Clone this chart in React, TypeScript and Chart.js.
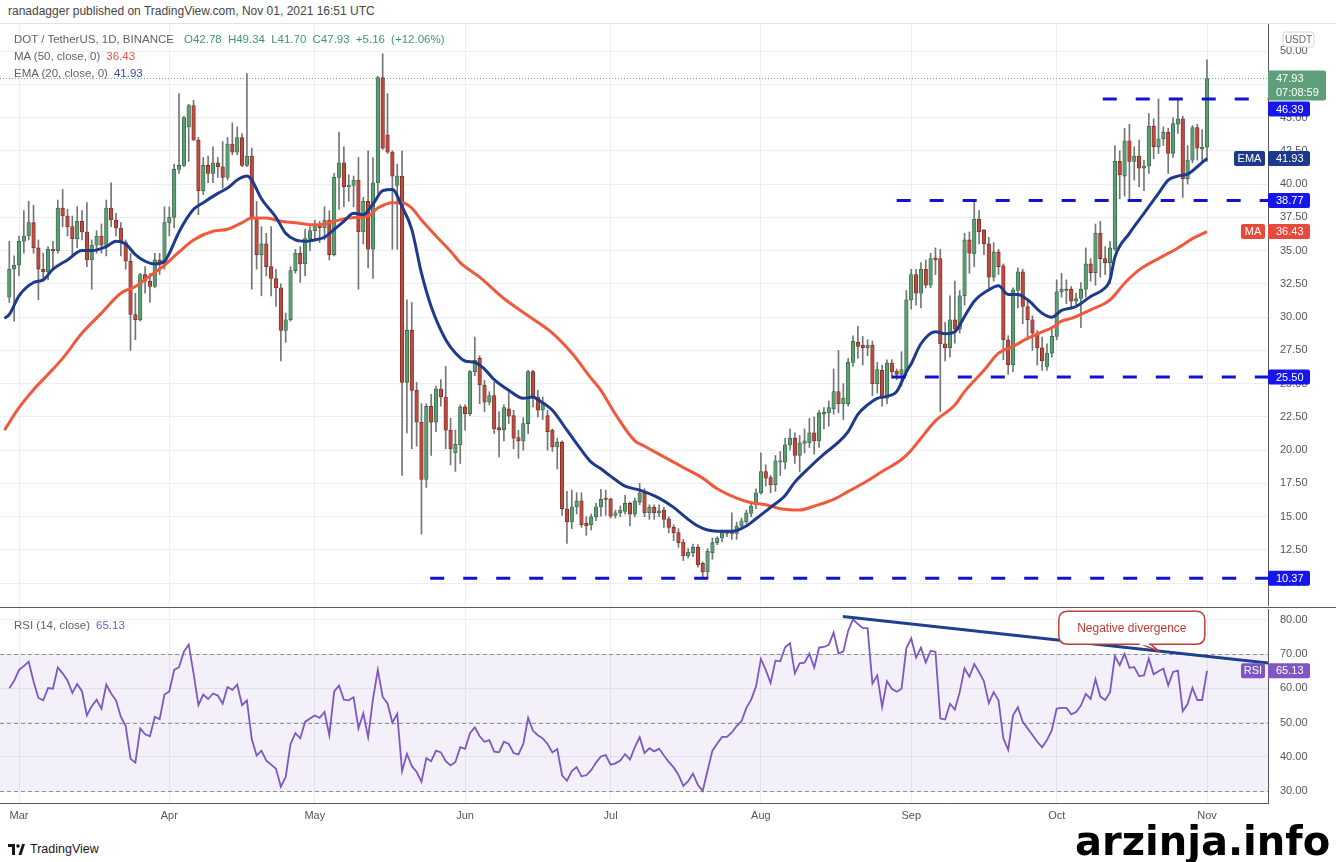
import React, { useEffect, useRef } from 'react';
import { Chart, registerables } from 'chart.js';

Chart.register(...registerables);

// Day index: 0 = 2021-03-01. Candles run from Feb 27 (day -2) to Nov 1 (day 245).
const FIRST_DAY = -2;

const opens: number[] = [
  31.5, 33.6, 33.9, 35.7, 36.1, 37.1, 35.2, 33.6, 33.4, 35.1,
  35.0, 38.2, 37.6, 36.8, 35.9, 37.2, 36.4, 34.3, 35.4, 36.1,
  35.4, 38.2, 37.3, 36.7, 35.6, 34.2, 30.2, 29.8, 33.2, 32.7,
  32.3, 34.3, 34.0, 37.1, 37.5, 41.1, 41.4, 44.3, 45.9, 43.3,
  39.5, 41.4, 40.8, 41.6, 41.3, 40.5, 43.0, 42.4, 43.5, 41.4,
  42.1, 37.5, 34.7, 35.5, 33.8, 32.9, 32.2, 29.0, 29.8, 33.5,
  34.8, 34.0, 35.9, 36.5, 36.9, 36.7, 37.3, 34.7, 40.5, 41.6,
  39.8, 39.9, 40.3, 36.4, 38.7, 35.1, 40.1, 48.0, 43.7, 42.4,
  39.9, 40.6, 25.1, 29.0, 24.5, 22.1, 17.8, 23.3, 22.1, 24.6,
  24.0, 21.5, 19.8, 20.4, 23.25, 22.75, 25.9, 26.9, 24.9, 23.6,
  24.1, 21.7, 21.55, 23.1, 22.6, 20.95, 20.7, 22.0, 25.9, 24.0,
  23.0, 22.6, 21.5, 20.25, 20.6, 15.6, 14.6, 15.75, 16.2, 14.5,
  14.4, 15.0, 15.75, 16.4, 16.35, 15.1, 15.3, 15.4, 16.0, 15.2,
  16.1, 16.8, 15.3, 15.7, 15.3, 15.5, 14.85, 14.2, 13.8, 13.1,
  12.05, 12.3, 12.7, 11.5, 10.85, 12.3, 13.05, 13.4, 13.85, 13.7,
  13.75, 14.3, 14.6, 15.25, 15.9, 16.8, 18.4, 17.95, 17.4, 19.1,
  19.1, 20.4, 20.9, 19.6, 20.5, 20.55, 21.3, 20.7, 22.7, 22.8,
  23.1, 24.4, 23.5, 23.5, 26.6, 28.1, 27.9, 27.7, 27.9, 25.0,
  26.0, 23.9, 26.55, 25.95, 25.7, 25.9, 31.3, 33.2, 31.8, 33.6,
  32.4, 34.45, 34.4, 28.0, 27.7, 29.8, 29.1, 31.6, 35.8, 34.75,
  37.35, 36.55, 35.5, 33.0, 34.9, 33.85, 28.3, 26.4, 32.0, 33.4,
  30.8, 29.8, 28.8, 27.7, 26.3, 27.3, 28.55, 31.9, 32.1, 32.1,
  31.2, 31.4, 32.1, 34.0, 33.35, 36.3, 34.4, 34.1, 35.1, 41.7,
  40.6, 43.25, 41.7, 42.1, 41.2, 41.35, 44.35, 42.8, 43.4, 43.9,
  42.3, 44.5, 44.9, 40.4, 41.8, 44.25, 42.65, 42.78,
];

const highs: number[] = [
  35.7, 34.6, 36.1, 38.0, 38.7, 38.4, 35.8, 34.8, 35.3, 35.7,
  38.8, 39.6, 38.1, 37.6, 38.3, 38.0, 38.6, 35.8, 36.5, 37.0,
  38.8, 40.1, 37.8, 37.1, 35.8, 34.8, 31.8, 33.3, 33.8, 33.3,
  34.8, 34.8, 38.3, 38.3, 41.5, 46.8, 45.1, 46.0, 46.3, 43.5,
  42.0, 42.1, 42.8, 42.0, 43.2, 43.5, 44.6, 44.3, 43.8, 48.3,
  42.7, 38.7, 36.8, 36.3, 36.8, 33.6, 32.5, 30.3, 33.8, 35.1,
  35.3, 36.6, 36.8, 37.3, 37.2, 38.3, 38.0, 40.8, 43.9, 42.8,
  40.7, 40.6, 42.0, 39.0, 42.5, 42.0, 48.1, 49.8, 46.8, 42.5,
  41.5, 42.5, 31.3, 31.1, 25.1, 23.5, 23.5, 24.2, 24.8, 25.3,
  26.3, 22.4, 21.5, 23.4, 23.4, 26.0, 28.5, 27.1, 25.25, 24.4,
  25.1, 22.9, 23.4, 24.5, 23.0, 21.5, 22.45, 26.0, 26.0, 24.5,
  24.0, 23.0, 21.6, 20.9, 20.7, 16.9, 17.0, 16.8, 16.8, 15.0,
  15.2, 16.0, 17.05, 17.0, 16.4, 15.5, 15.8, 16.6, 16.1, 16.4,
  17.5, 17.1, 15.9, 15.9, 15.9, 15.7, 15.0, 14.4, 14.1, 13.3,
  12.6, 12.95, 12.9, 11.6, 12.6, 13.4, 13.5, 14.0, 14.0, 15.3,
  14.6, 14.9, 15.5, 16.0, 17.1, 19.8, 18.9, 18.1, 19.6, 19.9,
  20.9, 21.6, 21.3, 21.1, 21.6, 22.4, 22.5, 23.0, 23.2, 23.7,
  26.1, 27.5, 25.0, 26.9, 28.6, 29.3, 28.55, 28.3, 28.2, 26.6,
  26.4, 26.8, 26.8, 26.1, 27.4, 32.0, 33.6, 33.6, 34.1, 34.3,
  34.8, 35.2, 35.1, 29.6, 31.6, 32.7, 32.0, 36.3, 36.4, 38.8,
  38.0, 36.6, 36.0, 35.6, 35.1, 34.0, 28.6, 32.2, 33.7, 33.6,
  31.3, 30.1, 29.0, 28.5, 28.0, 29.3, 32.8, 33.3, 32.8, 32.3,
  31.8, 32.6, 35.2, 34.4, 37.0, 37.2, 35.3, 35.7, 42.9, 42.5,
  44.2, 44.5, 42.8, 43.3, 41.8, 45.3, 44.9, 46.4, 44.3, 44.2,
  45.0, 46.3, 45.1, 42.9, 44.4, 44.5, 44.1, 49.34,
];

const lows: number[] = [
  31.1, 29.7, 33.1, 34.8, 35.8, 34.8, 31.3, 32.8, 32.8, 33.6,
  34.8, 36.8, 36.1, 34.6, 35.2, 35.8, 33.8, 32.1, 34.8, 34.8,
  34.6, 36.8, 36.1, 34.6, 33.6, 27.5, 28.3, 29.7, 31.8, 31.1,
  32.2, 33.2, 33.6, 36.1, 36.7, 40.8, 41.3, 41.7, 43.3, 37.7,
  39.2, 40.1, 40.1, 40.5, 39.7, 40.3, 42.2, 42.2, 41.3, 41.3,
  32.1, 33.6, 31.6, 33.1, 31.6, 30.8, 26.7, 28.1, 29.7, 33.3,
  32.6, 33.1, 35.0, 35.8, 35.6, 35.8, 34.3, 34.6, 38.1, 38.3,
  38.7, 38.3, 32.1, 35.5, 33.7, 32.9, 39.3, 42.6, 42.3, 35.1,
  35.1, 18.1, 21.3, 20.1, 20.3, 13.7, 17.2, 19.6, 21.4, 23.3,
  20.1, 18.9, 18.4, 19.0, 21.5, 22.6, 25.6, 23.5, 22.9, 23.4,
  21.25, 19.5, 20.7, 22.0, 20.1, 19.4, 20.0, 21.25, 23.25, 22.5,
  22.3, 20.0, 19.9, 18.6, 15.1, 13.0, 14.1, 15.2, 14.2, 13.6,
  14.0, 14.7, 15.05, 15.1, 14.9, 14.9, 15.0, 15.2, 14.3, 15.0,
  15.9, 15.0, 14.8, 14.8, 15.0, 14.2, 13.8, 13.2, 12.7, 11.7,
  11.9, 12.0, 11.2, 10.37, 10.4, 11.8, 12.9, 13.1, 13.5, 13.3,
  13.3, 14.1, 14.5, 15.0, 15.6, 16.7, 17.3, 16.8, 16.9, 18.1,
  18.6, 20.0, 19.0, 18.4, 19.8, 20.2, 19.7, 20.2, 21.6, 21.8,
  22.7, 22.8, 22.3, 23.3, 26.3, 26.9, 26.4, 27.1, 24.1, 24.3,
  23.3, 23.5, 25.4, 25.3, 24.8, 25.6, 30.6, 30.9, 30.7, 32.2,
  32.2, 33.2, 22.9, 26.7, 27.0, 28.05, 28.8, 30.9, 33.3, 33.8,
  35.5, 34.7, 32.2, 32.7, 33.2, 26.8, 25.7, 25.9, 30.7, 29.5,
  28.3, 27.5, 26.4, 26.0, 26.0, 27.0, 28.3, 31.5, 31.0, 30.6,
  30.9, 29.2, 31.5, 32.7, 32.4, 33.0, 33.2, 32.5, 35.0, 38.9,
  39.1, 38.9, 40.3, 39.8, 39.5, 40.8, 41.9, 42.3, 42.9, 40.8,
  42.0, 43.8, 39.0, 40.0, 41.6, 41.8, 41.6, 41.70,
];

const closes: number[] = [
  33.6, 33.9, 35.7, 36.1, 37.1, 35.2, 33.6, 33.4, 35.1, 35.0,
  38.2, 37.6, 36.8, 35.9, 37.2, 36.4, 34.3, 35.4, 36.1, 35.4,
  38.2, 37.3, 36.7, 35.6, 34.2, 30.2, 29.8, 33.2, 32.7, 32.3,
  34.3, 34.0, 37.1, 37.5, 41.1, 41.4, 45.0, 45.9, 43.3, 39.5,
  41.4, 40.8, 41.6, 41.3, 40.5, 43.0, 42.4, 43.5, 41.4, 42.1,
  37.5, 34.7, 35.5, 33.8, 32.9, 32.2, 29.0, 29.8, 33.5, 34.8,
  34.0, 35.9, 36.5, 36.9, 36.7, 37.3, 34.7, 40.5, 41.6, 39.8,
  39.9, 40.3, 36.4, 38.7, 35.1, 40.1, 48.0, 42.7, 42.4, 40.6,
  40.6, 25.1, 29.0, 24.5, 22.1, 17.8, 23.3, 22.1, 24.6, 24.0,
  21.5, 20.1, 20.45, 23.25, 22.75, 25.9, 26.75, 24.9, 23.6, 24.1,
  21.6, 21.55, 23.2, 22.55, 20.9, 20.7, 22.0, 25.9, 24.0, 23.0,
  23.5, 21.4, 20.25, 20.6, 15.6, 14.6, 15.75, 16.2, 14.4, 14.3,
  15.0, 15.75, 16.3, 16.3, 15.05, 15.3, 15.5, 16.0, 15.2, 16.2,
  16.8, 15.3, 15.7, 15.3, 15.45, 14.8, 14.2, 13.8, 13.05, 12.05,
  12.35, 12.7, 11.4, 10.85, 12.4, 13.05, 13.4, 13.85, 13.75, 13.95,
  14.3, 14.7, 15.3, 15.8, 16.8, 18.4, 17.9, 17.4, 19.2, 19.2,
  20.4, 20.9, 19.6, 20.55, 20.7, 21.3, 20.7, 22.8, 22.85, 23.2,
  24.4, 23.5, 23.9, 26.6, 28.2, 27.8, 27.7, 27.9, 25.0, 26.05,
  23.9, 26.55, 25.9, 25.7, 26.05, 31.3, 33.2, 31.8, 33.6, 32.4,
  34.4, 34.3, 28.0, 27.7, 29.8, 29.1, 31.6, 35.8, 34.8, 37.35,
  36.4, 35.5, 33.0, 34.9, 33.8, 28.3, 26.4, 32.05, 33.4, 30.8,
  29.8, 28.8, 27.7, 26.7, 27.3, 28.55, 31.9, 32.1, 32.0, 31.2,
  31.4, 32.1, 34.0, 33.35, 36.3, 34.4, 34.1, 35.2, 41.7, 40.7,
  43.25, 41.7, 42.1, 41.2, 41.35, 44.35, 42.8, 43.4, 43.9, 42.3,
  44.55, 44.9, 40.4, 41.8, 44.25, 42.7, 42.78, 47.93,
];

const rsiValues: number[] = [
  60.0, 62.2, 65.4, 66.5, 67.8, 62.0, 57.2, 56.5, 60.1, 59.9,
  66.1, 64.4, 62.3, 58.7, 61.3, 59.1, 52.1, 54.8, 56.7, 54.1,
  61.1, 58.5, 56.5, 51.7, 49.0, 39.4, 38.3, 48.3, 46.6, 46.0,
  51.7, 51.0, 58.2, 59.1, 65.4, 66.2, 70.7, 72.8, 64.4, 55.1,
  58.2, 56.9, 58.5, 57.9, 55.5, 60.4, 59.6, 61.1, 55.1, 56.5,
  45.2, 40.4, 41.8, 38.9, 37.7, 36.5, 31.25, 34.1, 43.75, 46.9,
  45.4, 50.2, 51.2, 52.1, 51.4, 53.1, 46.3, 59.1, 60.8, 56.7,
  56.5, 57.4, 48.3, 52.7, 45.7, 56.9, 65.4, 57.5, 55.6, 50.0,
  52.6, 35.8, 40.9, 37.3, 35.6, 32.7, 39.6, 38.7, 41.8, 41.3,
  38.7, 37.5, 38.5, 42.8, 42.3, 46.9, 48.6, 46.0, 44.4, 44.9,
  41.5, 41.3, 44.4, 43.75, 41.1, 40.7, 43.75, 51.4, 47.6, 46.3,
  45.4, 43.75, 41.3, 42.3, 34.6, 33.0, 35.8, 37.0, 34.3, 34.6,
  36.1, 38.3, 40.1, 40.5, 37.7, 38.1, 38.9, 40.8, 39.2, 42.8,
  45.7, 41.1, 42.5, 41.6, 42.4, 40.4, 38.5, 36.9, 34.7, 31.5,
  32.9, 35.1, 31.8, 30.0, 36.0, 41.8, 43.9, 45.8, 45.8, 47.1,
  49.0, 50.4, 54.3, 56.7, 60.6, 68.6, 65.4, 61.6, 68.1, 67.9,
  72.0, 73.2, 64.4, 67.3, 67.5, 70.1, 66.1, 71.9, 72.1, 72.7,
  76.3, 70.2, 70.8, 76.8, 80.2, 78.8, 77.6, 77.6, 61.4, 63.8,
  54.6, 62.1, 59.9, 59.0, 59.9, 71.7, 74.6, 69.0, 71.9, 67.6,
  71.0, 70.7, 51.2, 50.9, 55.5, 53.8, 58.9, 65.9, 63.4, 67.1,
  64.7, 62.1, 55.7, 58.9, 56.5, 45.4, 42.0, 52.1, 54.5, 50.2,
  48.3, 46.4, 44.4, 42.8, 44.9, 47.8, 54.1, 54.3, 54.3, 52.4,
  53.1, 55.0, 58.4, 56.9, 62.7, 57.6, 56.6, 58.8, 69.4, 66.8,
  70.1, 66.0, 66.2, 63.6, 63.8, 68.7, 64.1, 65.0, 65.8, 60.9,
  64.8, 65.2, 53.3, 55.4, 60.2, 56.6, 56.6, 65.13,
];

const emaDays: number[] = [
  -3, -2, 0, 3, 5, 7, 10, 13, 15, 18, 20, 22, 24, 26, 28, 30, 31, 33, 36, 38,
  41, 43, 45, 47, 48, 50, 53, 55, 57, 59, 61, 63, 65, 67, 69, 71, 73, 75, 77, 79,
  81, 83, 85, 88, 90, 92, 94, 96, 98, 101, 104, 106, 107, 110, 113, 116, 118, 120, 122, 125,
  128, 132, 135, 138, 140, 142, 145, 147, 150, 152, 155, 158, 160, 163, 166, 169, 171, 173, 175, 177,
  179, 181, 183, 184, 186, 189, 191, 193, 195, 197, 200, 202, 204, 206, 208, 211, 213, 215, 218, 221,
  224, 225, 226, 229, 232, 235, 237, 239, 241, 243, 245,
];
const emaValues: number[] = [
  29.9, 30.2, 31.6, 32.6, 32.8, 33.6, 34.3, 35.0, 35.0, 35.3, 35.7, 35.5, 34.7, 34.2, 34.0, 34.2, 34.8, 36.4, 38.1, 38.6,
  39.3, 39.7, 40.3, 40.6, 40.3, 38.9, 37.5, 36.3, 35.8, 35.7, 35.8, 36.0, 36.6, 37.2, 37.8, 37.7, 38.5, 39.5, 39.6, 38.3,
  36.6, 33.3, 30.8, 28.3, 27.3, 26.7, 26.6, 26.1, 25.3, 24.5, 23.9, 24.0, 23.8, 23.0, 21.5, 20.0, 19.1, 18.6, 18.05, 17.3,
  17.0, 16.4, 15.7, 14.8, 14.3, 14.0, 13.9, 13.9, 14.3, 14.85, 15.7, 16.6, 17.6, 18.7, 19.7, 20.6, 21.4, 22.7, 23.4, 23.9,
  24.05, 24.4, 25.9, 26.5, 28.0, 28.9, 28.75, 28.9, 30.05, 31.2, 32.05, 32.35, 31.7, 31.7, 31.3, 30.3, 30.0, 30.5, 30.8, 31.55,
  32.2, 32.8, 34.5, 36.3, 37.8, 39.3, 40.3, 40.6, 40.75, 41.3, 41.93,
];
const maDays: number[] = [
  -3, 0, 3, 6, 9, 13, 17, 21, 24, 27, 30, 33, 36, 40, 43, 46, 48, 51, 54, 57,
  60, 62, 65, 68, 72, 74, 77, 79, 81, 83, 86, 89, 91, 95, 100, 105, 110, 114, 118, 120,
  123, 127, 129, 133, 137, 141, 144, 148, 151, 154, 157, 161, 164, 168, 171, 175, 178, 182, 184, 186,
  189, 193, 195, 199, 202, 205, 208, 211, 213, 215, 217, 221, 225, 228, 231, 235, 239, 242, 245,
];
const maValues: number[] = [
  21.5, 23.2, 24.55, 25.7, 26.9, 28.8, 30.3, 31.8, 32.3, 33.1, 33.9, 34.9, 35.8, 36.45, 36.6, 37.1, 37.45, 37.45, 37.2, 37.1,
  36.95, 36.95, 37.2, 37.45, 37.6, 38.2, 38.6, 38.6, 38.2, 37.3, 36.1, 34.95, 34.1, 33.0, 31.4, 30.1, 28.8, 27.3, 25.4, 24.5,
  22.7, 20.7, 20.3, 19.5, 18.7, 17.9, 17.1, 16.4, 16.05, 15.9, 15.6, 15.5, 15.8, 16.3, 16.9, 17.7, 18.4, 19.3, 20.0, 20.9,
  22.2, 23.4, 24.4, 26.0, 27.3, 27.8, 28.4, 28.9, 29.2, 29.7, 29.9, 30.55, 31.3, 32.55, 33.55, 34.4, 35.2, 35.9, 36.43,
];

const monthDays: number[] = [0, 31, 61, 92, 122, 153, 184, 214, 245];
const monthLabels: string[] = ['Mar', 'Apr', 'May', 'Jun', 'Jul', 'Aug', 'Sep', 'Oct', 'Nov'];
const priceTicks: number[] = [10, 12.5, 15, 17.5, 20, 22.5, 25, 27.5, 30, 32.5, 35, 37.5, 40, 42.5, 45, 47.5, 50];
const rsiTicks: number[] = [30, 40, 50, 60, 70, 80];
const rsiBandLines: number[] = [30, 50, 70];

// Horizontal support / resistance rays
const levelValues: number[] = [46.39, 38.77, 25.5, 10.37];
const levelStartDays: number[] = [223.5, 181, 180, 84.8];

// Divergence trend line on RSI
const trendDays: number[] = [169.9, 257.6];
const trendValues: number[] = [81.0, 67.4];

const calloutText = 'Negative divergence';
const calloutCenter = { day: 229.5, rsi: 77.7 };
const calloutTip = { day: 235, rsi: 70.9 };
const countdownText = '07:08:59';

// view ranges
const X_MIN = -3.92;
const X_MAX = 257.58;
const PRICE_MIN = 8.29;
const PRICE_MAX = 52.03;
const RSI_MIN = 26.5;
const RSI_MAX = 83.2;

const FONT = '"Liberation Sans", Arial, Helvetica, sans-serif';
const GRID = '#eceef2';
const AXIS = '#5a5a5a';
const TICK = '#555555';
const UP_FILL = '#5e9c74';
const UP_EDGE = '#336b48';
const DOWN_FILL = '#bb4a40';
const DOWN_EDGE = '#7c2b23';
const WICK = '#757575';
const MA_COLOR = '#ef5a3c';
const EMA_COLOR = '#1d3a8c';
const LEVEL_COLOR = '#1212cf';
const LEVEL_BOX = '#1616ec';
const EMA_BOX = '#1b3a8a';
const MA_BOX = '#e8493b';
const LAST_BOX = '#5e9f7a';
const RSI_COLOR = '#7e57c2';
const TREND_COLOR = '#1f3f8f';

function roundPath(ctx: CanvasRenderingContext2D, x: number, y: number, w: number, h: number, r: number) {
  ctx.beginPath();
  ctx.moveTo(x + r, y);
  ctx.lineTo(x + w - r, y);
  ctx.quadraticCurveTo(x + w, y, x + w, y + r);
  ctx.lineTo(x + w, y + h - r);
  ctx.quadraticCurveTo(x + w, y + h, x + w - r, y + h);
  ctx.lineTo(x + r, y + h);
  ctx.quadraticCurveTo(x, y + h, x, y + h - r);
  ctx.lineTo(x, y + r);
  ctx.quadraticCurveTo(x, y, x + r, y);
  ctx.closePath();
}

function valueBox(ctx: CanvasRenderingContext2D, x: number, top: number, color: string, text: string, w = 42) {
  roundPath(ctx, x, top, w, 15, 2);
  ctx.fillStyle = color;
  ctx.fill();
  ctx.fillStyle = '#ffffff';
  ctx.textAlign = 'left';
  ctx.textBaseline = 'middle';
  ctx.fillText(text, x + 8, top + 8);
}

function tagBox(ctx: CanvasRenderingContext2D, right: number, top: number, color: string, text: string, w: number) {
  roundPath(ctx, right - w, top, w, 15, 2);
  ctx.fillStyle = color;
  ctx.fill();
  ctx.fillStyle = '#ffffff';
  ctx.textAlign = 'center';
  ctx.textBaseline = 'middle';
  ctx.fillText(text, right - w / 2, top + 8);
}

const priceLabelsPlugin = {
  id: 'priceLabels',
  afterDraw(chart: any) {
    const ctx: CanvasRenderingContext2D = chart.ctx;
    const a = chart.chartArea;
    const ys = chart.scales.y;
    const x0 = a.right;
    ctx.save();
    // currency tag
    roundPath(ctx, x0 + 15, 8, 31, 15, 3);
    ctx.fillStyle = '#ffffff';
    ctx.fill();
    ctx.strokeStyle = '#d3d6dc';
    ctx.lineWidth = 1;
    ctx.stroke();
    ctx.font = `10px ${FONT}`;
    ctx.fillStyle = '#666666';
    ctx.textAlign = 'center';
    ctx.textBaseline = 'middle';
    ctx.fillText('USDT', x0 + 30.5, 16);

    ctx.font = `11px ${FONT}`;
    const lastClose = closes[closes.length - 1];
    const lastY = ys.getPixelForValue(lastClose);
    const lastTop = lastY - 8;
    const lastBottom = lastTop + 30;

    levelValues.forEach((v) => {
      let top = ys.getPixelForValue(v) - 7.5;
      if (top < lastBottom + 1 && top + 15 > lastTop) top = lastBottom + 1;
      valueBox(ctx, x0, top, LEVEL_BOX, v.toFixed(2));
    });

    const emaLast = emaValues[emaValues.length - 1];
    const emaTop = ys.getPixelForValue(emaLast) - 7.5;
    tagBox(ctx, x0 - 3, emaTop, EMA_BOX, 'EMA', 31);
    valueBox(ctx, x0, emaTop, EMA_BOX, emaLast.toFixed(2));

    const maLast = maValues[maValues.length - 1];
    const maTop = ys.getPixelForValue(maLast) - 7.5;
    tagBox(ctx, x0 - 3, maTop, MA_BOX, 'MA', 24);
    valueBox(ctx, x0, maTop, MA_BOX, maLast.toFixed(2));

    roundPath(ctx, x0, lastTop, 58, 30, 2);
    ctx.fillStyle = LAST_BOX;
    ctx.fill();
    ctx.fillStyle = '#ffffff';
    ctx.textAlign = 'left';
    ctx.textBaseline = 'middle';
    ctx.fillText(lastClose.toFixed(2), x0 + 8, lastTop + 8.5);
    ctx.fillText(countdownText, x0 + 8, lastTop + 22);
    ctx.restore();
  },
};

const rsiPlugin = {
  id: 'rsiDecor',
  beforeDatasetsDraw(chart: any) {
    const ctx: CanvasRenderingContext2D = chart.ctx;
    const a = chart.chartArea;
    const ys = chart.scales.y;
    ctx.save();
    const y70 = ys.getPixelForValue(70);
    const y30 = ys.getPixelForValue(30);
    ctx.fillStyle = 'rgba(126, 87, 194, 0.09)';
    ctx.fillRect(a.left, y70, a.right - a.left, y30 - y70);
    ctx.strokeStyle = '#8e9199';
    ctx.lineWidth = 1;
    ctx.setLineDash([4, 3]);
    rsiBandLines.forEach((v) => {
      const yy = Math.round(ys.getPixelForValue(v)) + 0.5;
      ctx.beginPath();
      ctx.moveTo(a.left, yy);
      ctx.lineTo(a.right, yy);
      ctx.stroke();
    });
    ctx.restore();
  },
  afterDraw(chart: any) {
    const ctx: CanvasRenderingContext2D = chart.ctx;
    const a = chart.chartArea;
    const xs = chart.scales.x;
    const ys = chart.scales.y;
    ctx.save();
    ctx.font = `11px ${FONT}`;
    const rsiLast = rsiValues[rsiValues.length - 1];
    const top = ys.getPixelForValue(rsiLast) - 7.5;
    tagBox(ctx, a.right - 3, top, RSI_COLOR, 'RSI', 24);
    valueBox(ctx, a.right, top, RSI_COLOR, rsiLast.toFixed(2));

    // callout
    const cx = xs.getPixelForValue(calloutCenter.day);
    const cy = ys.getPixelForValue(calloutCenter.rsi);
    const w = 146;
    const h = 33;
    const left = cx - w / 2;
    const bt = cy - h / 2;
    const tx = xs.getPixelForValue(calloutTip.day);
    const ty = ys.getPixelForValue(calloutTip.rsi);
    ctx.strokeStyle = '#b9413a';
    ctx.fillStyle = '#ffffff';
    ctx.lineWidth = 1.5;
    ctx.beginPath();
    ctx.moveTo(left + 80, bt + h - 1);
    ctx.lineTo(tx, ty);
    ctx.lineTo(left + 91, bt + h - 1);
    ctx.closePath();
    ctx.fill();
    ctx.stroke();
    roundPath(ctx, left, bt, w, h, 9);
    ctx.fill();
    ctx.stroke();
    ctx.fillStyle = '#ffffff';
    ctx.fillRect(left + 81, bt + h - 3, 9, 4);
    ctx.fillStyle = '#c23a30';
    ctx.font = `12px ${FONT}`;
    ctx.textAlign = 'center';
    ctx.textBaseline = 'middle';
    ctx.fillText(calloutText, cx, cy + 0.5);
    ctx.restore();
  },
};

const fitRightAxis = (s: any) => {
  s.width = 68;
  s.paddingTop = 0;
  s.paddingBottom = 0;
};

export default function App() {
  const priceRef = useRef<HTMLCanvasElement>(null);
  const rsiRef = useRef<HTMLCanvasElement>(null);

  useEffect(() => {
    const days = closes.map((_, i) => FIRST_DAY + i);
    const wickData = days.map((d, i) => ({ x: d, y: [lows[i], highs[i]] }));
    const bodyData = days.map((d, i) => ({ x: d, y: [opens[i], closes[i]] }));
    const bodyFill = days.map((_, i) => (closes[i] >= opens[i] ? UP_FILL : DOWN_FILL));
    const bodyEdge = days.map((_, i) => (closes[i] >= opens[i] ? UP_EDGE : DOWN_EDGE));
    const lastClose = closes[closes.length - 1];

    const levelSets = levelValues.map((v, i) => ({
      type: 'line',
      data: [
        { x: levelStartDays[i], y: v },
        { x: X_MAX, y: v },
      ],
      borderColor: LEVEL_COLOR,
      borderWidth: 3,
      borderDash: [14, 19],
      pointRadius: 0,
      order: 0,
    }));

    const monthTicks = (axis: any) => {
      axis.ticks = monthDays.map((v) => ({ value: v }));
    };

    const priceChart = new Chart(priceRef.current as HTMLCanvasElement, {
      type: 'bar',
      data: {
        datasets: [
          {
            type: 'line',
            data: [
              { x: X_MIN, y: lastClose },
              { x: X_MAX, y: lastClose },
            ],
            borderColor: '#6aa585',
            borderWidth: 1,
            borderDash: [1, 2],
            pointRadius: 0,
            order: 10,
          },
          {
            type: 'bar',
            data: wickData,
            backgroundColor: WICK,
            barThickness: 1,
            grouped: false,
            order: 9,
          },
          {
            type: 'bar',
            data: bodyData,
            backgroundColor: bodyFill,
            borderColor: bodyEdge,
            borderWidth: 0.8,
            borderSkipped: false,
            barThickness: 3.6,
            minBarLength: 1,
            grouped: false,
            order: 8,
          },
          {
            type: 'line',
            data: maDays.map((d, i) => ({ x: d, y: maValues[i] })),
            borderColor: MA_COLOR,
            borderWidth: 3,
            pointRadius: 0,
            cubicInterpolationMode: 'monotone',
            order: 7,
          },
          {
            type: 'line',
            data: emaDays.map((d, i) => ({ x: d, y: emaValues[i] })),
            borderColor: EMA_COLOR,
            borderWidth: 3,
            pointRadius: 0,
            cubicInterpolationMode: 'monotone',
            order: 6,
          },
          ...levelSets,
        ] as any,
      },
      options: {
        responsive: false,
        animation: false,
        events: [],
        layout: { padding: 0 },
        plugins: { legend: { display: false }, tooltip: { enabled: false } },
        scales: {
          x: {
            type: 'linear',
            min: X_MIN,
            max: X_MAX,
            offset: false,
            afterBuildTicks: monthTicks,
            afterFit: (s: any) => {
              s.height = 0;
              s.paddingLeft = 0;
              s.paddingRight = 0;
            },
            ticks: { display: false },
            grid: { color: GRID, drawTicks: false, offset: false },
            border: { display: false },
          },
          y: {
            type: 'linear',
            position: 'right',
            min: PRICE_MIN,
            max: PRICE_MAX,
            afterBuildTicks: (axis: any) => {
              axis.ticks = priceTicks.map((v) => ({ value: v }));
            },
            afterFit: fitRightAxis,
            ticks: {
              autoSkip: false,
              color: TICK,
              padding: 12,
              font: { family: FONT, size: 11 },
              callback: (v: any) => Number(v).toFixed(2),
            },
            grid: { color: GRID, drawTicks: false },
            border: { color: AXIS },
          },
        },
      } as any,
      plugins: [priceLabelsPlugin],
    });

    const rsiChart = new Chart(rsiRef.current as HTMLCanvasElement, {
      type: 'line',
      data: {
        datasets: [
          {
            data: days.map((d, i) => ({ x: d, y: rsiValues[i] })),
            borderColor: RSI_COLOR,
            borderWidth: 1.8,
            pointRadius: 0,
            tension: 0,
            order: 1,
          },
          {
            data: trendDays.map((d, i) => ({ x: d, y: trendValues[i] })),
            borderColor: TREND_COLOR,
            borderWidth: 3,
            pointRadius: 0,
            order: 0,
          },
        ],
      },
      options: {
        responsive: false,
        animation: false,
        events: [],
        layout: { padding: { top: 3 } },
        plugins: { legend: { display: false }, tooltip: { enabled: false } },
        scales: {
          x: {
            type: 'linear',
            min: X_MIN,
            max: X_MAX,
            afterBuildTicks: monthTicks,
            afterFit: (s: any) => {
              s.height = 27;
              s.paddingLeft = 0;
              s.paddingRight = 0;
            },
            ticks: {
              autoSkip: false,
              maxRotation: 0,
              color: TICK,
              padding: 6,
              font: { family: FONT, size: 11 },
              callback: (_v: any, i: number) => monthLabels[i] ?? '',
            },
            grid: { color: GRID, drawTicks: false },
            border: { color: AXIS },
          },
          y: {
            type: 'linear',
            position: 'right',
            min: RSI_MIN,
            max: RSI_MAX,
            afterBuildTicks: (axis: any) => {
              axis.ticks = rsiTicks.map((v) => ({ value: v }));
            },
            afterFit: fitRightAxis,
            ticks: {
              autoSkip: false,
              color: TICK,
              padding: 12,
              font: { family: FONT, size: 11 },
              callback: (v: any) => Number(v).toFixed(2),
            },
            grid: { color: GRID, drawTicks: false },
            border: { color: AXIS },
          },
        },
      } as any,
      plugins: [rsiPlugin],
    });

    return () => {
      priceChart.destroy();
      rsiChart.destroy();
    };
  }, []);

  const legendLabel = { color: '#5f626c' };

  return (
    <div
      style={{
        position: 'absolute',
        left: 0,
        top: 0,
        width: 1336,
        height: 862,
        background: '#ffffff',
        overflow: 'hidden',
        fontFamily: FONT,
      }}
    >
      <div style={{ position: 'absolute', left: 8, top: 4, fontSize: 12, lineHeight: '14px', color: '#454545', whiteSpace: 'nowrap' }}>
        ranadagger published on TradingView.com, Nov 01, 2021 16:51 UTC
      </div>
      <div style={{ position: 'absolute', left: 0, top: 23, width: 1336, height: 1, background: '#dfe2e7' }} />
      <canvas
        ref={priceRef}
        width={1336}
        height={582}
        style={{ position: 'absolute', left: 0, top: 24, width: 1336, height: 582 }}
      />
      <canvas
        ref={rsiRef}
        width={1336}
        height={224}
        style={{ position: 'absolute', left: 0, top: 606, width: 1336, height: 224 }}
      />
      <div style={{ position: 'absolute', left: 0, top: 607, width: 1336, height: 1, background: '#5a5a5a' }} />

      <div style={{ position: 'absolute', left: 14, top: 32, fontSize: 11.5, lineHeight: '14px', whiteSpace: 'nowrap' }}>
        <span style={legendLabel}>DOT / TetherUS, 1D, BINANCE</span>
        <span style={{ color: '#3f9868', marginLeft: 10, wordSpacing: 3 }}>O42.78 H49.34 L41.70 C47.93 +5.16 (+12.06%)</span>
      </div>
      <div style={{ position: 'absolute', left: 14, top: 49, fontSize: 11.5, lineHeight: '14px', whiteSpace: 'nowrap' }}>
        <span style={legendLabel}>MA (50, close, 0)</span>
        <span style={{ color: '#e5533d', marginLeft: 6 }}>36.43</span>
      </div>
      <div style={{ position: 'absolute', left: 14, top: 66, fontSize: 11.5, lineHeight: '14px', whiteSpace: 'nowrap' }}>
        <span style={legendLabel}>EMA (20, close, 0)</span>
        <span style={{ color: '#2d4ea3', marginLeft: 6 }}>41.93</span>
      </div>
      <div style={{ position: 'absolute', left: 14, top: 618, fontSize: 11.5, lineHeight: '14px', whiteSpace: 'nowrap' }}>
        <span style={legendLabel}>RSI (14, close)</span>
        <span style={{ color: RSI_COLOR, marginLeft: 6 }}>65.13</span>
      </div>

      <div style={{ position: 'absolute', left: 8, top: 842, height: 14, display: 'flex', alignItems: 'center', gap: 5 }}>
        <svg width="17" height="11" viewBox="0 0 17 11">
          <path d="M0 0 H7 V11 H4 V3 H0 Z" fill="#131722" />
          <circle cx="10" cy="2" r="1.8" fill="#131722" />
          <path d="M10.5 11 L14 0 H17 L13.5 11 Z" fill="#131722" />
        </svg>
        <span style={{ fontSize: 12.5, color: '#131722', lineHeight: '14px' }}>TradingView</span>
      </div>

      <div
        style={{
          position: 'absolute',
          left: 1075,
          top: 821,
          fontFamily: '"DejaVu Sans", sans-serif',
          fontWeight: 'bold',
          fontSize: 40,
          lineHeight: '40px',
          color: '#000000',
          whiteSpace: 'nowrap',
        }}
      >
        arzinja.info
      </div>
    </div>
  );
}
